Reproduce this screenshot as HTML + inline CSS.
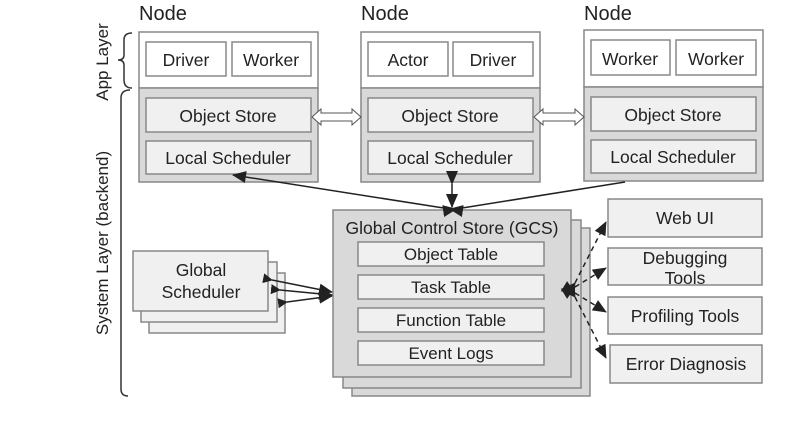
<!DOCTYPE html>
<html><head><style>
body{margin:0;width:807px;height:418px;background:#fff;overflow:hidden}
svg text{font-family:"Liberation Sans",sans-serif;fill:#222}
</style></head><body>
<svg width="807" height="418" viewBox="0 0 807 418">
<defs>
<marker id="a" markerWidth="10" markerHeight="10" refX="9" refY="5" orient="auto" markerUnits="userSpaceOnUse"><path d="M0,0 L10,5 L0,10 z" fill="#222"/></marker>
<marker id="b" markerWidth="14" markerHeight="12" refX="13" refY="6" orient="auto" markerUnits="userSpaceOnUse"><path d="M0,0 L14,6 L0,12 z" fill="#222"/></marker>
</defs>
<g font-size="20">
<text x="139" y="20">Node</text><text x="361" y="20">Node</text><text x="584" y="20">Node</text>
</g>
<g stroke="#888" stroke-width="1.5">
<rect x="139" y="32" width="179" height="56" fill="#fff"/><rect x="139" y="88" width="179" height="94" fill="#d9d9d9"/>
<rect x="361" y="32" width="179" height="56" fill="#fff"/><rect x="361" y="88" width="179" height="94" fill="#d9d9d9"/>
<rect x="584" y="30" width="179" height="57" fill="#fff"/><rect x="584" y="87" width="179" height="94" fill="#d9d9d9"/>
<g fill="#fff">
<rect x="146" y="42" width="80" height="34"/><rect x="232" y="42" width="79" height="34"/>
<rect x="368" y="42" width="80" height="34"/><rect x="453" y="42" width="80" height="34"/>
<rect x="591" y="40" width="79" height="35"/><rect x="676" y="40" width="80" height="35"/>
</g>
<g fill="#f0f0f0">
<rect x="146" y="98" width="165" height="34"/><rect x="146" y="141" width="165" height="33"/>
<rect x="368" y="98" width="165" height="34"/><rect x="368" y="141" width="165" height="33"/>
<rect x="591" y="97" width="165" height="34"/><rect x="591" y="140" width="165" height="33"/>
</g>
</g>
<g font-size="17.5" text-anchor="middle">
<text x="186" y="66">Driver</text><text x="271" y="66">Worker</text>
<text x="408" y="66">Actor</text><text x="493" y="66">Driver</text>
<text x="630" y="65">Worker</text><text x="716" y="65">Worker</text>
<text x="228" y="122">Object Store</text><text x="228" y="164">Local Scheduler</text>
<text x="450" y="122">Object Store</text><text x="450" y="164">Local Scheduler</text>
<text x="673" y="121">Object Store</text><text x="673" y="163">Local Scheduler</text>
</g>
<g fill="#fff" stroke="#555" stroke-width="1">
<path d="M312,117 L321,109 L321,113 L352,113 L352,109 L361,117 L352,125 L352,121 L321,121 L321,125 Z"/>
<path d="M534,117 L543,109 L543,113 L575,113 L575,109 L584,117 L575,125 L575,121 L543,121 L543,125 Z"/>
</g>
<path d="M132,33 Q124,33 124,40 L124,55 Q124,60 118,60 Q124,60 124,65 L124,80 Q124,88 132,88" fill="none" stroke="#333" stroke-width="1.5"/>
<path d="M130,90 Q121,90 121,98 L121,389 Q121,396 128,396" fill="none" stroke="#333" stroke-width="1.5"/>
<text transform="translate(108,62) rotate(-90)" font-size="17" text-anchor="middle">App Layer</text>
<text transform="translate(108,243) rotate(-90)" font-size="17" text-anchor="middle">System Layer (backend)</text>
<g stroke="#888" stroke-width="1.5" fill="#d9d9d9">
<rect x="352" y="228" width="238" height="168"/>
<rect x="343" y="220" width="238" height="168"/>
<rect x="333" y="210" width="238" height="167"/>
</g>
<text x="452" y="234" font-size="17.5" text-anchor="middle">Global Control Store (GCS)</text>
<g stroke="#888" stroke-width="1.5" fill="#f0f0f0">
<rect x="358" y="242" width="186" height="24"/><rect x="358" y="275" width="186" height="24"/>
<rect x="358" y="308" width="186" height="24"/><rect x="358" y="341" width="186" height="24"/>
</g>
<g font-size="17" text-anchor="middle">
<text x="451" y="260">Object Table</text><text x="451" y="293">Task Table</text>
<text x="451" y="326">Function Table</text><text x="451" y="359">Event Logs</text>
</g>
<g stroke="#888" stroke-width="1.5" fill="#f0f0f0">
<rect x="149" y="273" width="136" height="60"/>
<rect x="141" y="262" width="136" height="60"/>
<rect x="133" y="251" width="135" height="60"/>
</g>
<text x="201" y="276" font-size="17.5" text-anchor="middle">Global</text>
<text x="201" y="298" font-size="17.5" text-anchor="middle">Scheduler</text>
<g stroke="#888" stroke-width="1.5" fill="#f0f0f0">
<rect x="608" y="199" width="154" height="38"/><rect x="608" y="248" width="154" height="37"/>
<rect x="608" y="297" width="154" height="37"/><rect x="610" y="345" width="152" height="38"/>
</g>
<g font-size="17.5" text-anchor="middle">
<text x="685" y="224">Web UI</text><text x="685" y="264">Debugging</text><text x="685" y="284">Tools</text>
<text x="685" y="322">Profiling Tools</text><text x="686" y="370">Error Diagnosis</text>
</g>
<g stroke="#222" stroke-width="1.5" fill="none">
<line x1="450" y1="209" x2="233" y2="175" marker-start="url(#b)" marker-end="url(#b)"/>
<line x1="456" y1="209" x2="625" y2="182" marker-start="url(#b)"/>
<line x1="452" y1="184" x2="452" y2="207" marker-start="url(#b)" marker-end="url(#b)"/>
<line x1="272" y1="280" x2="332" y2="292" marker-start="url(#a)" marker-end="url(#b)"/>
<line x1="280" y1="290" x2="332" y2="295" marker-start="url(#a)" marker-end="url(#b)"/>
<line x1="287" y1="302" x2="332" y2="296" marker-start="url(#a)" marker-end="url(#b)"/>
</g>
<g stroke="#222" stroke-width="1.5" fill="none" stroke-dasharray="5,4">
<line x1="575" y1="283" x2="606" y2="222" marker-start="url(#b)" marker-end="url(#b)"/>
<line x1="575" y1="287" x2="606" y2="268" marker-start="url(#b)" marker-end="url(#b)"/>
<line x1="575" y1="293" x2="606" y2="312" marker-start="url(#b)" marker-end="url(#b)"/>
<line x1="575" y1="297" x2="606" y2="358" marker-start="url(#b)" marker-end="url(#b)"/>
</g>
</svg>
</body></html>
